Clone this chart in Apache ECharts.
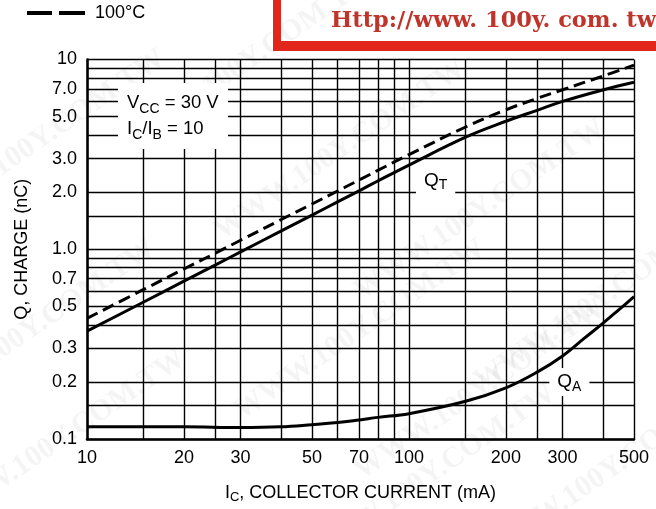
<!DOCTYPE html>
<html>
<head>
<meta charset="utf-8">
<script src="https://cdn.jsdelivr.net/npm/echarts@6/dist/echarts.min.js"></script>
<style>
html,body{margin:0;padding:0;background:#fff;}
#chart{width:656px;height:509px;}
</style>
</head>
<body>
<div id="chart"></div>
<script>
// ---- data ----
const currentT = [10, 15, 20, 25, 30, 40, 50, 60, 70, 80, 100, 150, 200, 250, 300, 400, 500];
const qT25 = [0.370, 0.527, 0.679, 0.825, 0.968, 1.247, 1.514, 1.777, 2.031, 2.288, 2.778, 3.898, 4.727, 5.397, 6.015, 6.910, 7.582];
const qT100 = [0.432, 0.614, 0.787, 0.952, 1.115, 1.430, 1.732, 2.028, 2.316, 2.603, 3.153, 4.408, 5.429, 6.236, 6.926, 8.177, 9.337];
const currentA = [10, 20, 30, 40, 50, 60, 70, 80, 100, 150, 200, 250, 300, 350, 400, 450, 500];
const qA = [0.116, 0.116, 0.115, 0.116, 0.119, 0.122, 0.126, 0.13, 0.136, 0.158, 0.186, 0.225, 0.274, 0.339, 0.407, 0.482, 0.562];

const xTickLabels = [10, 20, 30, 50, 70, 100, 200, 300, 500];
const xGridValues = [10, 15, 20, 25, 30, 40, 50, 60, 70, 80, 90, 100, 150, 200, 250, 300, 400, 500];
const yTickLabels = [0.1, 0.2, 0.3, 0.5, 0.7, 1, 2, 3, 5, 7, 10];
const yGridValues = [0.1, 0.15, 0.2, 0.3, 0.4, 0.5, 0.6, 0.7, 0.8, 0.9, 1, 1.5, 2, 3, 4, 5, 6, 7, 8, 9, 10];

const FONT = "'Liberation Sans', Arial, sans-serif";
const pairs = (xs, ys) => xs.map((x, i) => [x, ys[i]]);

const chart = echarts.init(document.getElementById('chart'), null, {renderer: 'canvas'});

const watermarkPos = [[250, 60], [340, 150], [480, 210], [360, 330], [480, 390], [40, 140], [30, 330], [60, 440], [430, 475], [610, 470], [600, 300]];
const watermarks = watermarkPos.map(p => ({
  type: 'text', x: p[0], y: p[1], rotation: 0.6, z: -10, silent: true,
  style: {text: 'WWW.100Y.COM.TW', fill: 'rgba(0,0,0,0.045)', fontFamily: "'Liberation Serif', serif", fontWeight: 'bold', fontSize: 30, align: 'center', verticalAlign: 'middle'}
}));

const subRich = (size, subSize, lh) => ({
  a: {fontFamily: FONT, fontSize: size, color: '#000', lineHeight: lh},
  s: {fontFamily: FONT, fontSize: subSize, color: '#000', lineHeight: subSize + 1, verticalAlign: 'bottom'}
});

const option = {
  animation: false,
  backgroundColor: '#fff',
  textStyle: {fontFamily: FONT, color: '#000'},
  grid: {left: 87, top: 59.5, width: 547, height: 382, show: false},
  legend: {
    data: [{name: '100°C'}],
    left: 22, top: -1,
    itemWidth: 58, itemHeight: 4,
    icon: 'path://M0,0L25,0L25,4L0,4ZM32,0L58,0L58,4L32,4Z',
    itemStyle: {color: '#000'},
    textStyle: {fontFamily: FONT, fontSize: 18, color: '#000', padding: [0, 0, 0, 5]}
  },
  xAxis: {
    type: 'log', logBase: 10, min: 10, max: 500,
    axisLine: {show: true, lineStyle: {color: '#000', width: 2.5}},
    axisTick: {show: false, customValues: xGridValues},
    axisLabel: {customValues: xTickLabels, margin: 10, fontSize: 18, fontFamily: FONT, color: '#000',
      formatter: v => String(Number(Number(v).toPrecision(3)))},
    splitLine: {show: true, lineStyle: {color: '#000', width: 1.4}},
    name: '{a|I}{s|C}{a|, COLLECTOR CURRENT (mA)}',
    nameLocation: 'middle', nameGap: 43,
    nameTextStyle: {rich: subRich(18, 13, 22)}
  },
  yAxis: {
    type: 'log', logBase: 10, min: 0.1, max: 10,
    axisLine: {show: true, lineStyle: {color: '#000', width: 2.5}},
    axisTick: {show: false, customValues: yGridValues},
    axisLabel: {customValues: yTickLabels, margin: 10, fontSize: 18, fontFamily: FONT, color: '#000',
      formatter: v => { const n = Number(Number(v).toPrecision(3)); return (n >= 1 && n < 10) ? n.toFixed(1) : String(n); }},
    splitLine: {show: true, lineStyle: {color: '#000', width: 1.4}},
    name: 'Q, CHARGE (nC)',
    nameLocation: 'middle', nameGap: 56, nameRotate: 90,
    nameTextStyle: {fontFamily: FONT, fontSize: 18, color: '#000'}
  },
  series: [
    {
      name: '25°C', type: 'line', data: pairs(currentT, qT25), smooth: 0.4, symbol: 'none',
      lineStyle: {color: '#000', width: 3}, itemStyle: {color: '#000'}, z: 5,
      markPoint: {
        symbol: 'rect', symbolSize: 0, silent: true,
        data: [{coord: [121, 2.3]}],
        label: {show: true, position: 'inside', formatter: '{a|Q}{s|T}', backgroundColor: '#fff', padding: [2, 8, 2, 8],
          rich: subRich(19, 14, 24)}
      }
    },
    {
      name: '100°C', type: 'line', data: pairs(currentT, qT100), smooth: 0.4, symbol: 'none',
      lineStyle: {color: '#000', width: 3, type: [12, 6]}, itemStyle: {color: '#000'}, z: 5
    },
    {
      name: 'QA', type: 'line', data: pairs(currentA, qA), smooth: 0.4, symbol: 'none',
      lineStyle: {color: '#000', width: 3}, itemStyle: {color: '#000'}, z: 5,
      markPoint: {
        symbol: 'rect', symbolSize: 0, silent: true,
        data: [{coord: [315, 0.2]}],
        label: {show: true, position: 'inside', formatter: '{a|Q}{s|A}', backgroundColor: '#fff', padding: [2, 8, 2, 8],
          rich: subRich(19, 14, 24)}
      }
    }
  ],
  graphic: [
    ...watermarks,
    {type: 'rect', shape: {x: 118, y: 83, width: 110, height: 66}, style: {fill: '#fff'}, z: 50, silent: true},
    {type: 'text', x: 127, y: 90, z: 51, silent: true,
      style: {text: '{a|V}{s|CC}{a| = 30 V}\n{a|I}{s|C}{a|/I}{s|B}{a| = 10}',
        rich: {
          a: {fontFamily: FONT, fontSize: 18.5, fill: '#000', lineHeight: 26},
          s: {fontFamily: FONT, fontSize: 14, fill: '#000', lineHeight: 18, verticalAlign: 'bottom'}
        }}},
    {type: 'rect', shape: {x: 273, y: 0, width: 8, height: 51}, style: {fill: '#e2261c'}, z: 60, silent: true},
    {type: 'rect', shape: {x: 273, y: 41, width: 383, height: 10}, style: {fill: '#e2261c'}, z: 60, silent: true},
    {type: 'text', x: 331, y: 21, z: 61, silent: true,
      style: {text: 'Http://www. 100y. com. tw', fill: '#c0352b', fontFamily: "'DejaVu Serif', serif", fontWeight: 'bold', fontSize: 22.5, verticalAlign: 'middle'}}
  ]
};
chart.setOption(option);
</script>
</body>
</html>
